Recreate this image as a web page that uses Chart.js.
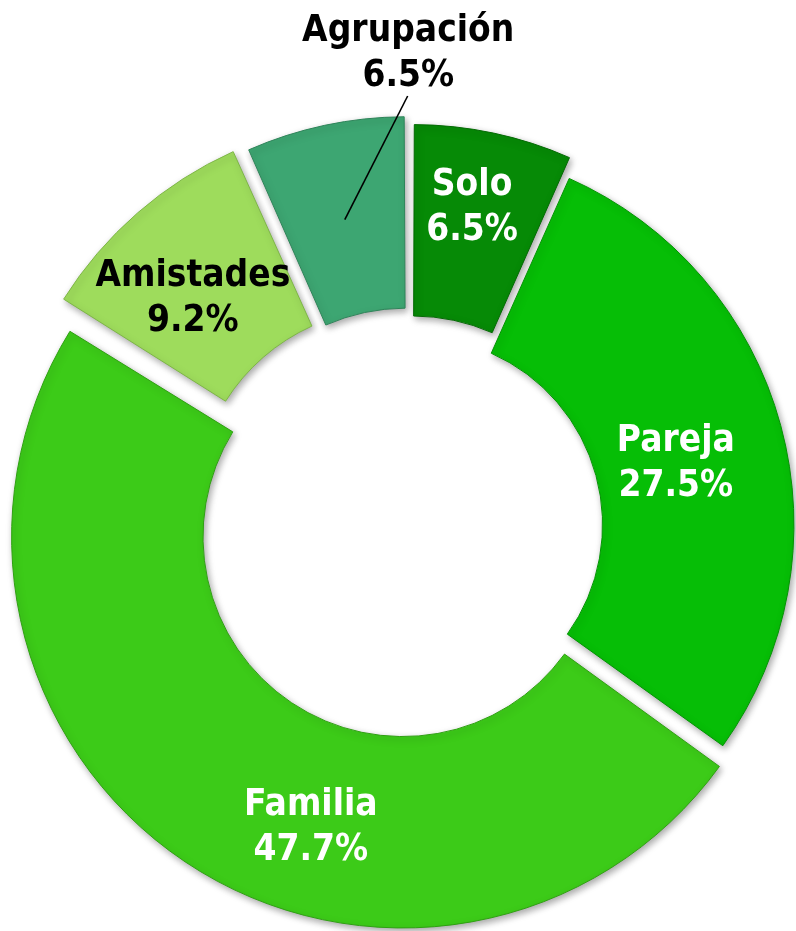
<!DOCTYPE html>
<html>
<head>
<meta charset="utf-8">
<script src="https://cdn.jsdelivr.net/npm/chart.js@4"></script>
<style>
  html, body { margin: 0; padding: 0; background: #ffffff; }
  canvas { display: block; }
</style>
</head>
<body>
<canvas id="c" width="796" height="931"></canvas>
<script>
// ---- data ----
const categories = ['Solo', 'Pareja', 'Familia', 'Amistades', 'Agrupación'];
const values = [6.5, 27.5, 47.7, 9.2, 6.5];
const valueLabels = ['6.5%', '27.5%', '47.7%', '9.2%', '6.5%'];

// ---- styles ----
const sliceColors = ['#068A06', '#06BE06', '#3CCB18', '#9EDC5C', '#3DA672'];
const sliceBorders = ['#046A04', '#049404', '#2FA012', '#7DB646', '#2E8459'];
const textColors = ['#ffffff', '#ffffff', '#ffffff', '#000000', '#000000'];
const explode = [57, 20, 52, 100, 77];
const labelAngleShift = [-1.1, 1.1, -15.4, -2.2, 11.8];
const labelRadius = [328, 274, 314, 317, 476];
const leaderIndex = 4;

const FONT_SIZE = 38;
const FONT = 'bold ' + FONT_SIZE + 'px "DejaVu Sans", sans-serif';
const TEXT_SQUEEZE = 0.87;
const LINE_GAP = 45;

const shadowPlugin = {
  id: 'softShadow',
  beforeDatasetsDraw(chart) {
    const c = chart.ctx;
    c.save();
    c.shadowColor = 'rgba(0,0,0,0.35)';
    c.shadowBlur = 7;
    c.shadowOffsetX = 2;
    c.shadowOffsetY = 3;
  },
  afterDatasetsDraw(chart) {
    chart.ctx.restore();
  }
};

const labelPlugin = {
  id: 'sliceLabels',
  afterDatasetsDraw(chart) {
    const c = chart.ctx;
    const meta = chart.getDatasetMeta(0);
    c.save();
    c.font = FONT;
    c.textAlign = 'center';
    c.textBaseline = 'alphabetic';
    const capHalf = FONT_SIZE * 0.364;
    meta.data.forEach((arc, i) => {
      const mid = (arc.startAngle + arc.endAngle) / 2;
      const a = mid + labelAngleShift[i] * Math.PI / 180;
      const lx = arc.x + Math.cos(a) * labelRadius[i];
      const ly = arc.y + Math.sin(a) * labelRadius[i];
      c.fillStyle = textColors[i];
      c.save();
      c.translate(lx, ly);
      c.scale(TEXT_SQUEEZE, 1);
      c.fillText(categories[i], 0, -LINE_GAP / 2 + capHalf);
      c.fillText(valueLabels[i], 0, LINE_GAP / 2 + capHalf);
      c.restore();
      if (i === leaderIndex) {
        const r0 = labelRadius[i] - 46;
        const a0 = mid + (labelAngleShift[i] - 0.1) * Math.PI / 180;
        const r1 = (arc.innerRadius + arc.outerRadius) / 2 + 30;
        c.beginPath();
        c.moveTo(arc.x + Math.cos(a0) * r0, arc.y + Math.sin(a0) * r0);
        c.lineTo(arc.x + Math.cos(mid) * r1, arc.y + Math.sin(mid) * r1);
        c.strokeStyle = '#000000';
        c.lineWidth = 1.6;
        c.stroke();
      }
    });
    c.restore();
  }
};

new Chart(document.getElementById('c'), {
  type: 'doughnut',
  data: {
    labels: categories,
    datasets: [{
      data: values,
      backgroundColor: sliceColors,
      borderColor: sliceBorders,
      borderWidth: 1,
      offset: explode,
      hoverOffset: 0,
      clip: false
    }]
  },
  options: {
    responsive: false,
    animation: false,
    devicePixelRatio: 1,
    radius: 379,
    cutout: '49.5%',
    layout: { padding: { left: 24, right: 0, top: 121, bottom: 0 } },
    events: [],
    plugins: {
      legend: { display: false },
      tooltip: { enabled: false }
    }
  },
  plugins: [shadowPlugin, labelPlugin]
});
</script>
</body>
</html>
